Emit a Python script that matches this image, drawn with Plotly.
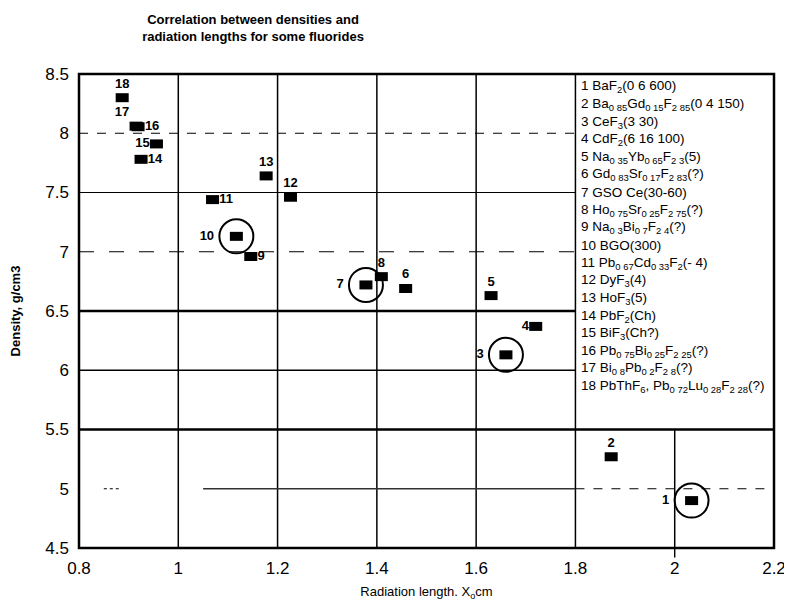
import plotly.graph_objects as go

# ---------------- data ----------------
ids = list(range(1, 19))
rad_len = [2.034, 1.872, 1.660, 1.720, 1.630, 1.458, 1.378, 1.409, 1.146,
           1.117, 1.069, 1.226, 1.177, 0.925, 0.956, 0.919, 0.915, 0.887]
density = [4.90, 5.27, 6.13, 6.37, 6.63, 6.69, 6.72, 6.79, 6.96,
           7.13, 7.44, 7.46, 7.64, 7.78, 7.91, 8.055, 8.06, 8.30]
label_pos = ['middle left', 'top center', 'middle left', 'middle left', 'top center',
             'top center', 'middle left', 'top center', 'middle right', 'middle left',
             'middle right', 'top center', 'top center', 'middle right', 'middle left',
             'middle right', 'top left', 'top center']
circled = [1, 3, 7, 10]
materials = [
    "BaF<sub>2</sub>(0 6 600)",
    "Ba<sub>0 85</sub>Gd<sub>0 15</sub>F<sub>2 85</sub>(0 4 150)",
    "CeF<sub>3</sub>(3 30)",
    "CdF<sub>2</sub>(6 16 100)",
    "Na<sub>0 35</sub>Yb<sub>0 65</sub>F<sub>2 3</sub>(5)",
    "Gd<sub>0 83</sub>Sr<sub>0 17</sub>F<sub>2 83</sub>(?)",
    "GSO Ce(30-60)",
    "Ho<sub>0 75</sub>Sr<sub>0 25</sub>F<sub>2 75</sub>(?)",
    "Na<sub>0 3</sub>Bi<sub>0 7</sub>F<sub>2 4</sub>(?)",
    "BGO(300)",
    "Pb<sub>0 67</sub>Cd<sub>0 33</sub>F<sub>2</sub>(- 4)",
    "DyF<sub>3</sub>(4)",
    "HoF<sub>3</sub>(5)",
    "PbF<sub>2</sub>(Ch)",
    "BiF<sub>3</sub>(Ch?)",
    "Pb<sub>0 75</sub>Bi<sub>0 25</sub>F<sub>2 25</sub>(?)",
    "Bi<sub>0 8</sub>Pb<sub>0 2</sub>F<sub>2 8</sub>(?)",
    "PbThF<sub>6</sub>, Pb<sub>0 72</sub>Lu<sub>0 28</sub>F<sub>2 28</sub>(?)",
]
x_ticks = [0.8, 1.0, 1.2, 1.4, 1.6, 1.8, 2.0, 2.2]
x_ticktext = ["0.8", "1", "1.2", "1.4", "1.6", "1.8", "2", "2.2"]
y_ticks = [4.5, 5.0, 5.5, 6.0, 6.5, 7.0, 7.5, 8.0, 8.5]
y_ticktext = ["4.5", "5", "5.5", "6", "6.5", "7", "7.5", "8", "8.5"]

FONT = "Liberation Sans, Arial, Helvetica, sans-serif"
X_MIN, X_MAX = x_ticks[0], x_ticks[-1]
Y_MIN, Y_MAX = y_ticks[0], y_ticks[-1]
BOX_X = 1.8      # left edge of the key box
BOX_Y = 5.5      # bottom edge of the key box

# the page body adds an 8px offset; size the figure so it ends at the window edge
FIG_W, FIG_H = 784, 593

fig = go.Figure()

# ---------------- gridlines ----------------
shapes = []
for xv in x_ticks[1:-1]:
    top = Y_MAX if xv <= BOX_X else BOX_Y
    shapes.append(dict(type="line", xref="x", yref="y", x0=xv, x1=xv, y0=Y_MIN, y1=top,
                       line=dict(color="black", width=1.5), layer="below"))
h_style = {8.0: (1, "dash"), 7.5: (1.2, "solid"), 7.0: (1, "longdash"),
           6.5: (2.6, "solid"), 6.0: (1.3, "solid"), 5.5: (2.6, "solid")}
for yv, (w, d) in h_style.items():
    right = X_MAX if yv <= BOX_Y else BOX_X
    shapes.append(dict(type="line", xref="x", yref="y", x0=X_MIN, x1=right, y0=yv, y1=yv,
                       line=dict(color="black", width=w, dash=d), layer="below"))
shapes.append(dict(type="line", xref="x", yref="y", x0=0.85, x1=0.88, y0=5.0, y1=5.0,
                   line=dict(color="black", width=1, dash="dot"), layer="below"))
shapes.append(dict(type="line", xref="x", yref="y", x0=1.05, x1=1.8, y0=5.0, y1=5.0,
                   line=dict(color="#333", width=1.3), layer="below"))
shapes.append(dict(type="line", xref="x", yref="y", x0=1.8, x1=X_MAX, y0=5.0, y1=5.0,
                   line=dict(color="black", width=1, dash="dash"), layer="below"))
shapes.append(dict(type="line", xref="x", yref="paper", x0=2.0, x1=2.0, y0=-0.02, y1=0,
                   line=dict(color="black", width=1.4)))
shapes.append(dict(type="rect", xref="paper", yref="paper", x0=0, x1=1, y0=0, y1=1,
                   line=dict(color="black", width=2.5)))

# ---------------- points ----------------
main_text = ["" if i in circled else f"<b>{i}</b>" for i in ids]
fig.add_trace(go.Scatter(
    x=rad_len, y=density, mode="markers+text", text=main_text, textposition=label_pos,
    marker=dict(symbol="line-ew", size=9.3, color="black",
                line=dict(width=9, color="black")),
    textfont=dict(size=13, color="black", family=FONT),
    hoverinfo="x+y", showlegend=False,
))
cx = [x for i, x in zip(ids, rad_len) if i in circled]
cy = [y for i, y in zip(ids, density) if i in circled]
ct = [f"<b>{i}</b>" for i in ids if i in circled]
fig.add_trace(go.Scatter(
    x=cx, y=cy, mode="markers+text", text=ct, textposition="middle left",
    marker=dict(symbol="circle-open", size=34, color="black",
                line=dict(width=2, color="black")),
    textfont=dict(size=13, color="black", family=FONT),
    hoverinfo="skip", showlegend=False,
))

# ---------------- key box ----------------
annotations = []
for k, (i, m) in enumerate(zip(ids, materials)):
    annotations.append(dict(
        xref="paper", yref="paper", x=0.72, y=0.973 - k * 0.0372,
        xanchor="left", yanchor="middle", showarrow=False,
        text=f"{i} {m}", font=dict(size=13.5, color="black", family=FONT)))

fig.update_layout(
    width=FIG_W, height=FIG_H,
    margin=dict(l=71, r=18, t=66, b=53, autoexpand=False),
    paper_bgcolor="white", plot_bgcolor="white",
    title=dict(text="<b>Correlation between densities and<br>radiation lengths for some fluorides</b>",
               x=245 / FIG_W, xref="container", xanchor="center",
               y=0.9735, yref="container", yanchor="top",
               font=dict(size=13, color="black", family=FONT)),
    xaxis=dict(range=[X_MIN, X_MAX], tickvals=x_ticks, ticktext=x_ticktext,
               showgrid=False, zeroline=False, showline=False, ticks="",
               automargin=False, ticklabelstandoff=8,
               tickfont=dict(size=17, color="black", family=FONT),
               title=dict(text="Radiation length. X<sub>o</sub>cm", standoff=21,
                          font=dict(size=13, color="black", family=FONT))),
    yaxis=dict(range=[Y_MIN, Y_MAX], tickvals=y_ticks, ticktext=y_ticktext,
               showgrid=False, zeroline=False, showline=False, ticks="",
               automargin=False, ticklabelstandoff=9,
               tickfont=dict(size=17, color="black", family=FONT),
               title=dict(text="<b>Density, g/cm3</b>", standoff=22,
                          font=dict(size=13, color="black", family=FONT))),
    shapes=shapes,
    annotations=annotations,
)

fig.write_html("out.html")
